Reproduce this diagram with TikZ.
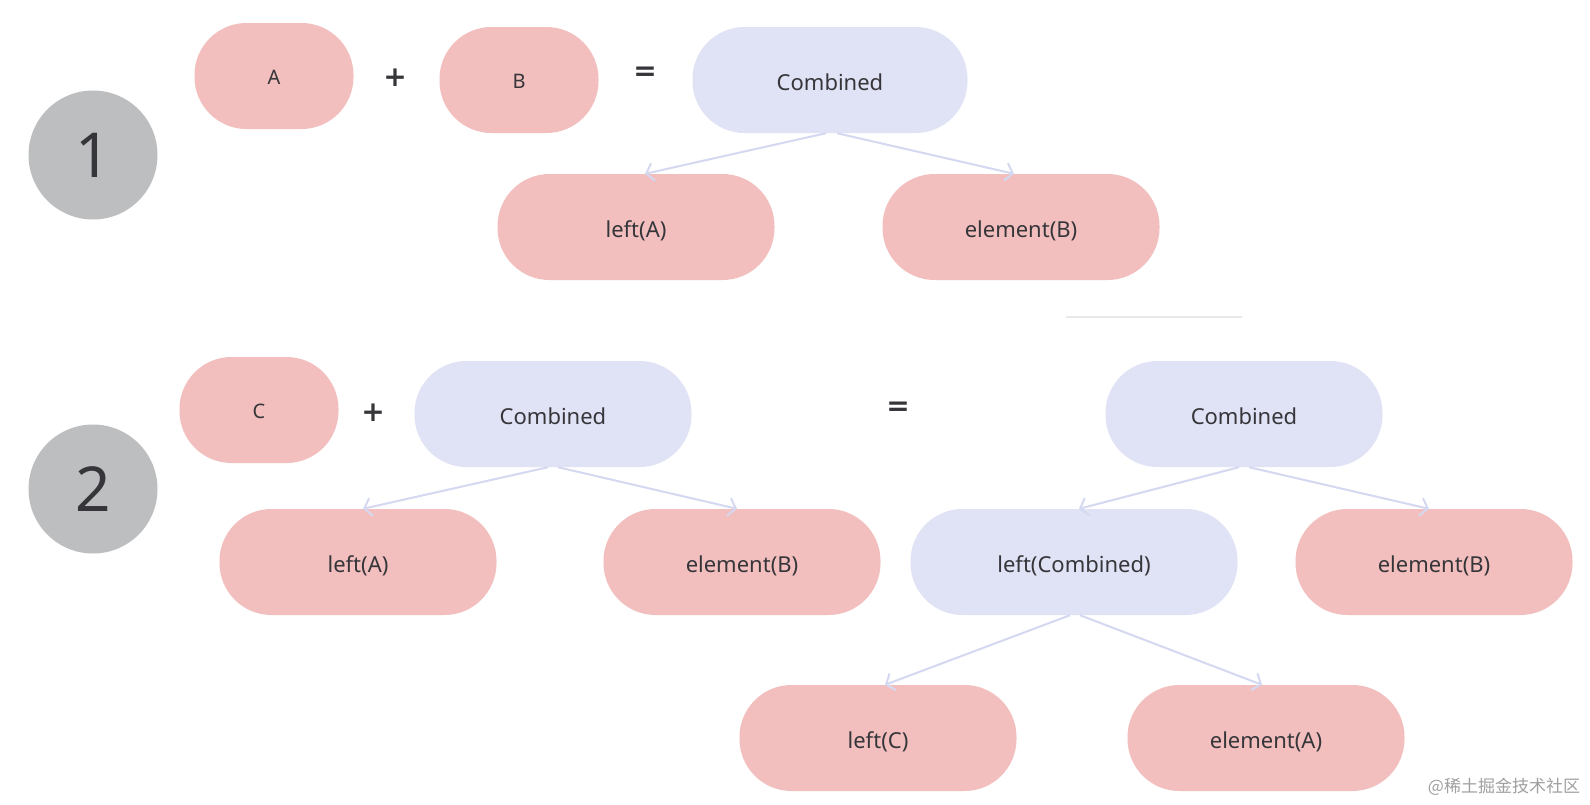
\documentclass[tikz,border=0pt]{standalone}
\usepackage{fontspec}
\setmainfont{Noto Sans}
\newfontfamily\cjk{Noto Sans CJK SC}
\newfontfamily\opfont{DejaVu Sans}
\usetikzlibrary{arrows.meta}
\definecolor{pinkfill}{HTML}{F2BFBE}
\definecolor{lavfill}{HTML}{E0E2F6}
\definecolor{circfill}{HTML}{BDBEC0}
\definecolor{txt}{HTML}{36363A}
\definecolor{arr}{HTML}{D4D8F0}
\definecolor{wm}{HTML}{A0A0A0}
\begin{document}
\begin{tikzpicture}[x=1pt,y=-1pt,
 box/.style={rounded corners=52pt, minimum height=106pt, inner sep=0pt, text=txt, text height=22pt, text depth=2pt, font=\fontsize{22}{26}\selectfont},
 pk/.style={box, fill=pinkfill, minimum width=277pt},
 lv/.style={box, fill=lavfill, minimum width=277pt},
 sm/.style={box, fill=pinkfill, minimum width=159pt, text height=18pt, font=\fontsize{20}{24}\selectfont},
 num/.style={circle, fill=circfill, minimum size=129pt, inner sep=0pt, text=txt, font=\fontsize{62}{70}\selectfont},
 op/.style={text=txt, font=\opfont\bfseries\fontsize{28}{32}\selectfont, inner sep=0pt},
 link/.style={draw=arr, line width=2pt, -{Straight Barb[length=7pt,width=18pt]}}]
\useasboundingbox (0,0) rectangle (1590,804);
\fill[white] (0,0) rectangle (1590,804);

% row 1
\node[num] (n1) at (93,155) {1};
\node[sm] (a1) at (274,76) {A};
\node[op] (plus1) at (395,78) {+};
\node[sm] (b1) at (519,80) {B};
\node[op] (eq1) at (645,74) {=};
\node[lv, minimum width=275pt] (comb1) at (830,80) {Combined};
\node[pk] (lefta1) at (636,227) {left(A)};
\node[pk] (elemb1) at (1021,227) {element(B)};
\draw[link] ([xshift=-4pt]comb1.south) -- ([xshift=9pt]lefta1.north);
\draw[link] ([xshift=7pt]comb1.south) -- ([xshift=-7pt]elemb1.north);

% faint separator trace
\coordinate (s1) at (1066,317);
\coordinate (s2) at (1242,317);
\draw[black!9, line width=2pt] (s1) -- (s2);

% row 2
\node[num] (n2) at (93,489) {2};
\node[sm] (c2) at (259,410) {C};
\node[op] (plus2) at (373,413) {+};
\node[lv] (comb2) at (553,414) {Combined};
\node[pk] (lefta2) at (358,562) {left(A)};
\node[pk] (elemb2) at (742,562) {element(B)};
\draw[link] ([xshift=-5pt]comb2.south) -- ([xshift=5pt]lefta2.north);
\draw[link] ([xshift=5pt]comb2.south) -- ([xshift=-5pt]elemb2.north);

\node[op] (eq2) at (898,409) {=};
\node[lv] (comb3) at (1244,414) {Combined};
\node[lv, minimum width=327pt] (leftcomb) at (1074,562) {left(Combined)};
\node[pk] (elemb3) at (1434,562) {element(B)};
\node[pk] (leftc) at (878,738) {left(C)};
\node[pk] (elema) at (1266,738) {element(A)};
\draw[link] ([xshift=-5pt]comb3.south) -- ([xshift=5pt]leftcomb.north);
\draw[link] ([xshift=5pt]comb3.south) -- ([xshift=-5pt]elemb3.north);
\draw[link] ([xshift=-4pt]leftcomb.south) -- ([xshift=7pt]leftc.north);
\draw[link] ([xshift=6pt]leftcomb.south) -- ([xshift=-4pt]elema.north);

\node[text=wm, font=\cjk\fontsize{17}{20}\selectfont, inner sep=0pt] (credit) at (1504,787) {@稀土掘金技术社区};
\end{tikzpicture}
\end{document}
